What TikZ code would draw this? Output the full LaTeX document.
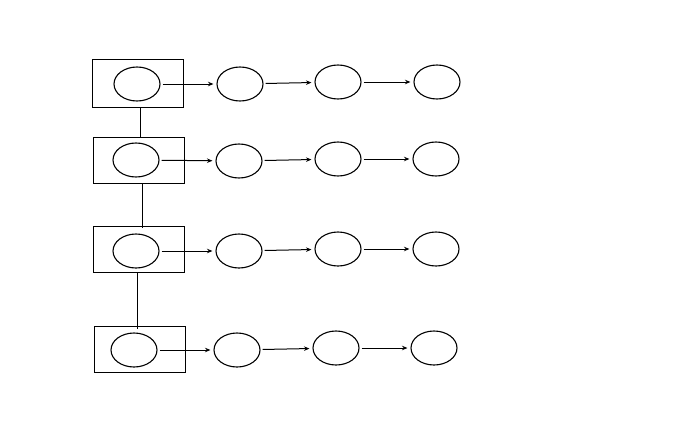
\documentclass[tikz,border=0pt]{standalone}
\usetikzlibrary{shapes.geometric,arrows.meta}
\tikzset{
  cell/.style={draw=black, ellipse, line width=1.1pt, minimum width=46pt,
    minimum height=34pt, inner sep=0pt},
  slot/.style={draw=black, rectangle, line width=0.9pt, minimum width=91pt,
    minimum height=46pt, inner sep=0pt},
  link/.style={-{Stealth[length=5.5pt,width=4.5pt]}, line width=1pt, shorten >=3pt, shorten <=2pt},
  chain/.style={line width=0.9pt},
}
\begin{document}
\begin{tikzpicture}[x=1pt,y=-1pt]
  \useasboundingbox (0,0) rectangle (693,442);
  % left column of boxes
  \node[slot, minimum height=48pt] (r1) at (138,83) {};
  \node[slot] (r2) at (138.5,160) {};
  \node[slot] (r3) at (138.5,249) {};
  \node[slot] (r4) at (139.5,349) {};
  % row 1
  \node[cell] (a1) at (137,84) {};
  \node[cell] (a2) at (240,84) {};
  \node[cell] (a3) at (338,82) {};
  \node[cell] (a4) at (437,82) {};
  % row 2
  \node[cell] (b1) at (136,160) {};
  \node[cell] (b2) at (239,161) {};
  \node[cell] (b3) at (338,159) {};
  \node[cell] (b4) at (436,159) {};
  % row 3
  \node[cell] (c1) at (136,251) {};
  \node[cell] (c2) at (239,251) {};
  \node[cell] (c3) at (338,249) {};
  \node[cell] (c4) at (436,249) {};
  % row 4
  \node[cell] (d1) at (134,350) {};
  \node[cell] (d2) at (237,350) {};
  \node[cell] (d3) at (336,348) {};
  \node[cell] (d4) at (434,348) {};
  % arrows along the rows
  \draw[link] (a1) -- (a2); \draw[link] (a2) -- (a3); \draw[link] (a3) -- (a4);
  \draw[link] (b1) -- (b2); \draw[link] (b2) -- (b3); \draw[link] (b3) -- (b4);
  \draw[link] (c1) -- (c2); \draw[link] (c2) -- (c3); \draw[link] (c3) -- (c4);
  \draw[link] (d1) -- (d2); \draw[link] (d2) -- (d3); \draw[link] (d3) -- (d4);
  % vertical links between the boxes
  \draw[chain] ([xshift=2pt]r1.south) -- ([xshift=1.5pt]r2.north);
  \draw[chain] ([xshift=3.5pt]r2.south) -- ([xshift=3.5pt,yshift=-2pt]r3.north);
  \draw[chain] ([xshift=-1.5pt]r3.south) -- ([xshift=-2.5pt,yshift=-3pt]r4.north);
\end{tikzpicture}
\end{document}
